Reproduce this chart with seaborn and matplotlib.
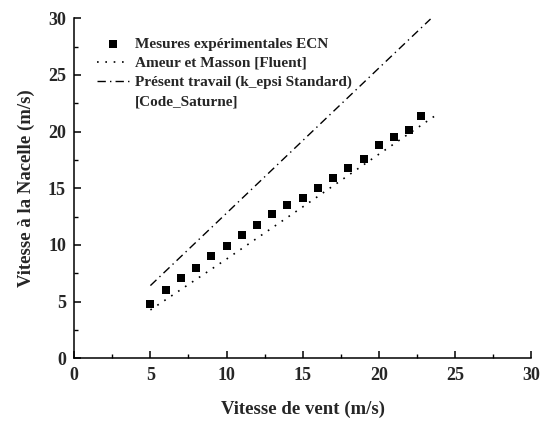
import matplotlib
matplotlib.use("Agg")
import matplotlib.pyplot as plt
from matplotlib.lines import Line2D
from matplotlib.font_manager import FontProperties
import seaborn as sns
import pandas as pd

# Data
exp_x = [5, 6, 7, 8, 9, 10, 11, 12, 13, 14, 15, 16, 17, 18, 19, 20, 21, 22, 22.8]
exp_y = [4.82, 6.0, 7.09, 8.0, 9.0, 9.91, 10.88, 11.8, 12.74, 13.53, 14.15,
         15.06, 15.88, 16.76, 17.59, 18.78, 19.52, 20.14, 21.35]

fluent_x = [5, 10, 15, 20, 23.7]
fluent_y = [4.26, 8.75, 13.35, 18.0, 21.4]

saturne_x = [5, 10, 15, 20, 23.4]
saturne_y = [6.41, 12.8, 19.2, 25.6, 29.94]

major_ticks = [0, 5, 10, 15, 20, 25, 30]
minor_ticks = [2.5, 7.5, 12.5, 17.5, 22.5, 27.5]
tick_labels = ["0", "5", "10", "15", "20", "25", "30"]

labels = ["Mesures expérimentales ECN",
          "Ameur et Masson [Fluent]",
          "Présent travail (k_epsi Standard)",
          "[Code_Saturne]"]

sns.set_style("ticks")
plt.rcParams["font.family"] = ["Liberation Serif", "DejaVu Serif"]
plt.rcParams["font.weight"] = "bold"
plt.rcParams["axes.labelweight"] = "bold"

fig = plt.figure(figsize=(5.47, 4.22), dpi=100)
ax = fig.add_axes([0.1358, 0.1512, 0.8350, 0.8054])

df_exp = pd.DataFrame({"x": exp_x, "y": exp_y})
df_flu = pd.DataFrame({"x": fluent_x, "y": fluent_y})
df_sat = pd.DataFrame({"x": saturne_x, "y": saturne_y})

sns.scatterplot(data=df_exp, x="x", y="y", ax=ax, marker="s", s=32,
                color="black", edgecolor="black", linewidth=0, label=labels[0])
sns.lineplot(data=df_flu, x="x", y="y", ax=ax, color="black",
             linestyle=(0, (1, 4)), linewidth=1.2, label=labels[1])
sns.lineplot(data=df_sat, x="x", y="y", ax=ax, color="black",
             linestyle=(0, (6, 3, 1, 3)), linewidth=1.0, label=labels[2])

ax.set_xlim(0, 30)
ax.set_ylim(0, 30)
bold = FontProperties(family="Liberation Serif", weight="bold", size=13)
ax.set_xticks(major_ticks)
ax.set_yticks(major_ticks)
ax.set_xticks(minor_ticks, minor=True)
ax.set_yticks(minor_ticks, minor=True)
ax.set_xticklabels(tick_labels, fontproperties=bold)
ax.set_yticklabels(tick_labels, fontproperties=bold)
ax.tick_params(which="major", direction="in", length=5, width=1.1,
               pad=6, color="black")
ax.tick_params(which="minor", direction="in", length=3, width=1.0, color="black")

for side in ["top", "right"]:
    ax.spines[side].set_visible(False)
for side in ["left", "bottom"]:
    ax.spines[side].set_linewidth(1.1)
    ax.spines[side].set_color("black")

lab_font = FontProperties(family="Liberation Serif", weight="bold", size=13.5)
ax.set_xlabel("Vitesse de vent (m/s)", fontproperties=lab_font, labelpad=12)
ax.set_ylabel("Vitesse à la Nacelle (m/s)", fontproperties=lab_font, labelpad=9)

handles, hl = ax.get_legend_handles_labels()
handles.append(Line2D([], [], linestyle="none", marker=None))
hl.append(labels[3])
leg_font = FontProperties(family="Liberation Serif", weight="bold", size=11)
ax.legend(handles, hl, loc="upper left", bbox_to_anchor=(0.02, 0.985),
          frameon=False, handlelength=2.1, handletextpad=0.35,
          labelspacing=0.35, prop=leg_font)
fig.savefig("out.png", dpi=100)
